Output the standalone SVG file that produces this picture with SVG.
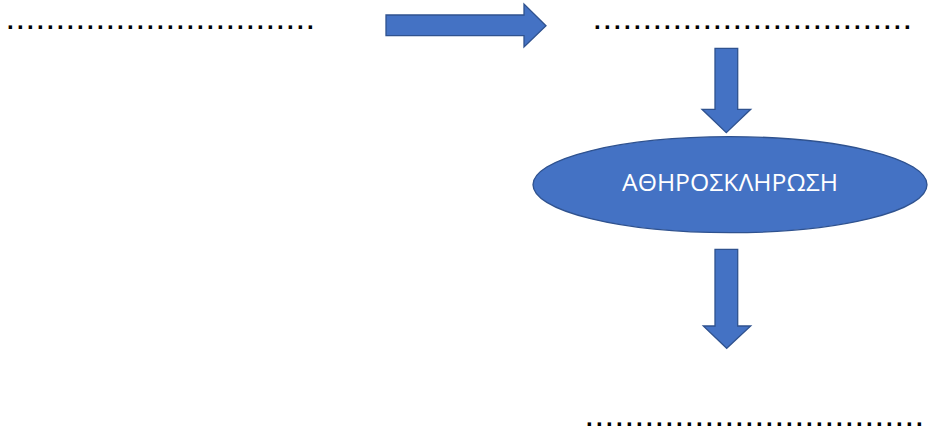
<svg xmlns="http://www.w3.org/2000/svg" width="928" height="430" viewBox="0 0 928 430">
<style>
.dots{font-family:"Liberation Sans",Arial,sans-serif;font-size:24px;font-weight:bold;fill:#000;letter-spacing:3.33px}
.blk{fill:#4472C4;stroke:#2F528F;stroke-width:1.3;stroke-linejoin:miter}
.lbl{font-family:"Open Sans","Liberation Sans",sans-serif;font-size:23px;fill:#fff;text-anchor:middle}
</style>
<rect width="928" height="430" fill="#fff"/>
<g id="blank-left"><text class="dots" x="7" y="29">...............................</text></g>
<g id="blank-right-top"><text class="dots" x="594" y="29">................................</text></g>
<g id="atherosclerosis">
<ellipse class="blk" cx="730" cy="184.7" rx="197" ry="48"/>
<text class="lbl" x="730" y="191" textLength="216" lengthAdjust="spacingAndGlyphs">ΑΘΗΡΟΣΚΛΗΡΩΣΗ</text>
</g>
<g id="blank-bottom"><text class="dots" x="586" y="426">..................................</text></g>
<g id="connectors">
<polygon class="blk" points="386,15 524,15 524,4 546,25.7 524,47 524,35.7 386,35.7"/>
<polygon class="blk" points="715,48.3 737.7,48.3 737.7,109.3 750.7,109.3 726.3,132.7 702,109.3 715,109.3"/>
<polygon class="blk" points="715,249.3 737.7,249.3 737.7,326 750.7,326 726.7,348.3 703.3,326 715,326"/>
</g>
</svg>
